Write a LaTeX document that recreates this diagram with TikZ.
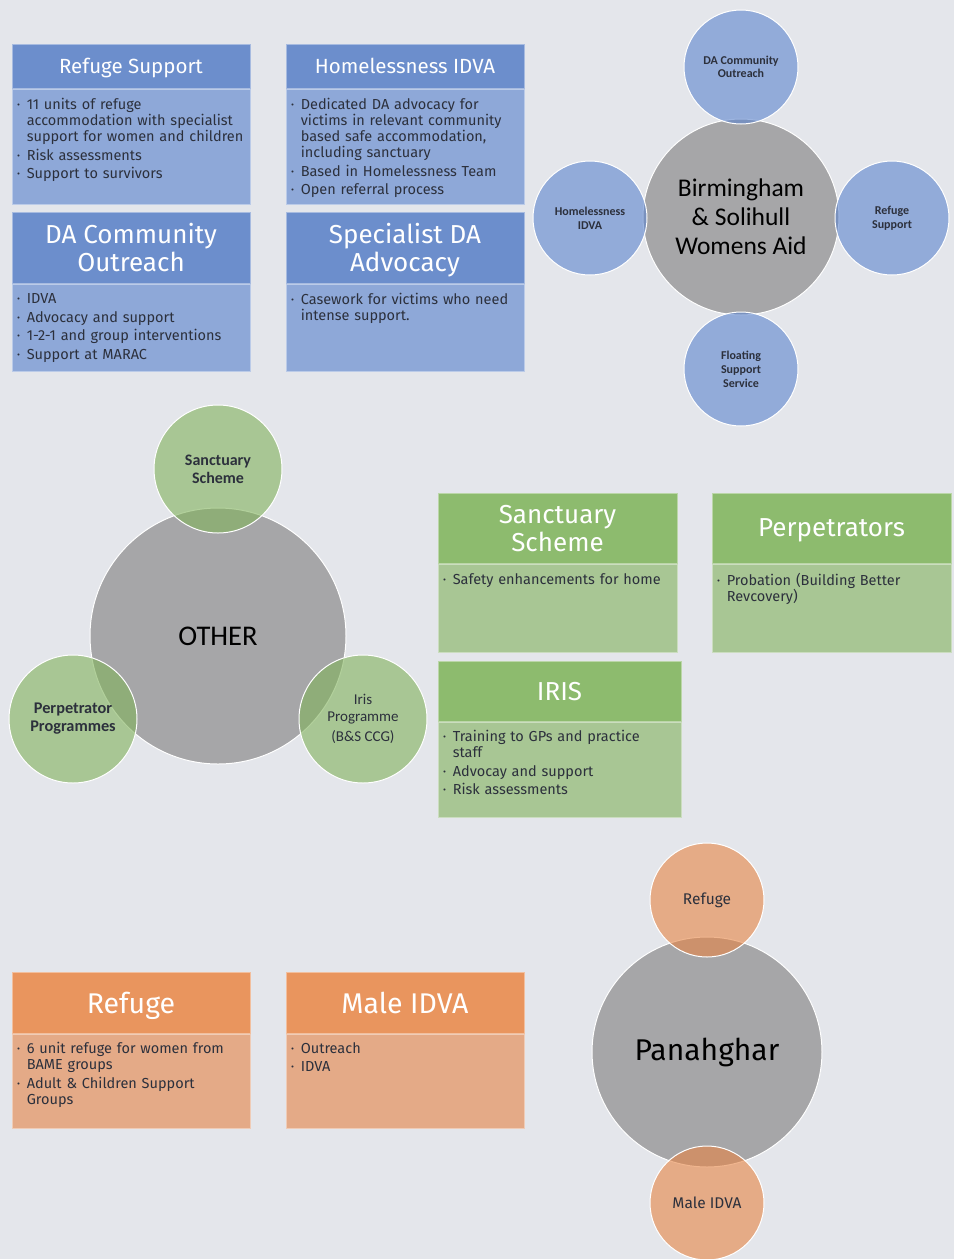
\documentclass[tikz,border=0pt]{standalone}
\usepackage{fontspec}
\setmainfont{Fira Sans}
\newfontfamily\calfont{Carlito}
\usetikzlibrary{positioning}
\definecolor{pagebg}{RGB}{228,230,235}
\definecolor{bluehead}{RGB}{108,142,204}
\definecolor{bluebody}{RGB}{142,168,216}
\definecolor{bluedot}{RGB}{92,132,205}
\definecolor{greenhead}{RGB}{141,187,110}
\definecolor{greenbody}{RGB}{168,198,148}
\definecolor{greendot}{RGB}{128,178,90}
\definecolor{orangehead}{RGB}{233,149,94}
\definecolor{orangebody}{RGB}{228,170,135}
\definecolor{orangedot}{RGB}{230,132,68}
\definecolor{hubgray}{RGB}{166,166,168}
\definecolor{inktext}{RGB}{44,48,60}
\newcommand{\headsmall}{\fontsize{20.5}{24}\selectfont}
\newcommand{\headbig}{\fontsize{26}{28}\selectfont}
\newcommand{\bitem}[1]{\hangindent=10pt\hangafter=1\noindent\makebox[10pt][l]{\textperiodcentered}#1\par}

\begin{document}
\begin{tikzpicture}[
        x=1pt, y=-1pt,
        boxhead/.style={rectangle, fill=#1, draw=white!40!#1, line width=0.8pt, minimum width=238pt, inner sep=0pt, text depth=0pt, align=center, text=white},
        boxbody/.style={rectangle, fill=#1, draw=white!40!#1, line width=0.8pt, minimum width=238pt, inner sep=0pt},
        items/.style={anchor=north west, align=left, inner sep=0pt, text width=230pt, text=inktext, font=\fontsize{14.5}{16}\selectfont, execute at begin node={\setlength{\parskip}{2.5pt}}},
        hub/.style={circle, fill=hubgray, draw=white, line width=1pt, inner sep=0pt, align=center, text=black},
        spoke/.style={circle, fill=#1, fill opacity=0.6, text opacity=1, draw=white, line width=1pt, inner sep=0pt, align=center, text=inktext},
    ]
    \useasboundingbox (0,0) rectangle (954,1259);
    \fill[pagebg] (0,0) rectangle (954,1259);

    % blue boxes
    \node[boxhead=bluehead, minimum height=44pt, font=\headsmall] (rshead) at (131,66) {Refuge Support};
    \node[boxbody=bluebody, minimum height=115pt, below=1pt of rshead] (rsbody) {};
    \node[items] (rstext) at ([xshift=5pt,yshift=-9pt]rsbody.north west) {\bitem{11 units of refuge\newline accommodation with specialist\newline support for women and children}\bitem{Risk assessments}\bitem{Support to survivors}};

    \node[boxhead=bluehead, minimum height=71pt, font=\headbig] (dahead) at (131,247.5) {DA Community\\Outreach};
    \node[boxbody=bluebody, minimum height=87pt, below=1pt of dahead] (dabody) {};
    \node[items] (datext) at ([xshift=5pt,yshift=-9pt]dabody.north west) {\bitem{IDVA}\bitem{Advocacy and support}\bitem{1-2-1 and group interventions}\bitem{Support at MARAC}};

    \node[boxhead=bluehead, minimum height=44pt, font=\headsmall] (hihead) at (405,66) {Homelessness IDVA};
    \node[boxbody=bluebody, minimum height=115pt, below=1pt of hihead] (hibody) {};
    \node[items] (hitext) at ([xshift=5pt,yshift=-9pt]hibody.north west) {\bitem{Dedicated DA advocacy for\newline victims in relevant community\newline based safe accommodation,\newline including sanctuary}\bitem{Based in Homelessness Team}\bitem{Open referral process}};

    \node[boxhead=bluehead, minimum height=71pt, font=\headbig] (sphead) at (405,247.5) {Specialist DA\\Advocacy};
    \node[boxbody=bluebody, minimum height=87pt, below=1pt of sphead] (spbody) {};
    \node[items] (sptext) at ([xshift=5pt,yshift=-9pt]spbody.north west) {\bitem{Casework for victims who need\newline intense support.}};

    % blue circles
    \node[hub, minimum size=196pt, font=\calfont\fontsize{25.5}{29}\selectfont] (bswa) at (741,217) {Birmingham\\\& Solihull\\Womens Aid};
    \node[spoke=bluedot, minimum size=114pt, font=\calfont\bfseries\fontsize{12}{13}\selectfont] (dac) at (741,67) {DA Community\\Outreach};
    \node[spoke=bluedot, minimum size=114pt, font=\calfont\bfseries\fontsize{12}{14}\selectfont] (hidva) at (590,218) {Homelessness\\IDVA};
    \node[spoke=bluedot, minimum size=114pt, font=\calfont\bfseries\fontsize{12}{14}\selectfont] (rsup) at (892,218) {Refuge\\Support};
    \node[spoke=bluedot, minimum size=114pt, font=\calfont\bfseries\fontsize{12}{14}\selectfont] (fss) at (741,369) {Floating\\Support\\Service};

    % green circles
    \node[hub, minimum size=256pt, font=\calfont\fontsize{28.5}{30}\selectfont] (other) at (218,636) {OTHER};
    \node[spoke=greendot, minimum size=128pt, font=\calfont\bfseries\fontsize{16}{18}\selectfont] (sanc) at (218,469) {Sanctuary\\Scheme};
    \node[spoke=greendot, minimum size=128pt, font=\calfont\bfseries\fontsize{16.3}{18}\selectfont] (perp) at (73,719) {Perpetrator\\Programmes};
    \node[spoke=greendot, minimum size=128pt, font=\calfont\fontsize{15}{17}\selectfont] (iris) at (363,719) {Iris\\Programme\\[3pt](B\&S CCG)};

    % green boxes
    \node[boxhead=greenhead, minimum width=239pt, minimum height=70pt, font=\headbig] (sshead) at (557.5,528) {Sanctuary\\Scheme};
    \node[boxbody=greenbody, minimum width=239pt, minimum height=88pt, below=1pt of sshead] (ssbody) {};
    \node[items] (sstext) at ([xshift=5pt,yshift=-9pt]ssbody.north west) {\bitem{Safety enhancements for home}};

    \node[boxhead=greenhead, minimum width=239pt, minimum height=70pt, font=\headbig] (pehead) at (831.5,528) {Perpetrators};
    \node[boxbody=greenbody, minimum width=239pt, minimum height=88pt, below=1pt of pehead] (pebody) {};
    \node[items] (petext) at ([xshift=5pt,yshift=-9pt]pebody.north west) {\bitem{Probation (Building Better\newline Revcovery)}};

    \node[boxhead=greenhead, minimum width=243pt, minimum height=60pt, font=\headbig] (irhead) at (559.5,691) {IRIS};
    \node[boxbody=greenbody, minimum width=243pt, minimum height=95pt, below=1pt of irhead] (irbody) {};
    \node[items] (irtext) at ([xshift=5pt,yshift=-8pt]irbody.north west) {\bitem{Training to GPs and practice\newline staff}\bitem{Advocay and support}\bitem{Risk assessments}};

    % orange boxes
    \node[boxhead=orangehead, minimum height=61pt, font=\fontsize{28.5}{30}\selectfont] (rfhead) at (131,1002.5) {Refuge};
    \node[boxbody=orangebody, minimum height=94pt, below=1pt of rfhead] (rfbody) {};
    \node[items] (rftext) at ([xshift=5pt,yshift=-8pt]rfbody.north west) {\bitem{6 unit refuge for women from\newline BAME groups}\bitem{Adult \& Children Support\newline Groups}};

    \node[boxhead=orangehead, minimum height=61pt, font=\fontsize{28.5}{30}\selectfont] (mihead) at (405,1002.5) {Male IDVA};
    \node[boxbody=orangebody, minimum height=94pt, below=1pt of mihead] (mibody) {};
    \node[items] (mitext) at ([xshift=5pt,yshift=-8pt]mibody.north west) {\bitem{Outreach}\bitem{IDVA}};

    % orange circles
    \node[hub, minimum size=230pt, font=\fontsize{30}{32}\selectfont] (pana) at (707,1052) {Panahghar};
    \node[spoke=orangedot, minimum size=114pt, font=\fontsize{15.5}{18}\selectfont] (oref) at (707,900) {Refuge};
    \node[spoke=orangedot, minimum size=114pt, font=\fontsize{15.5}{18}\selectfont] (omale) at (707,1203) {Male IDVA};
\end{tikzpicture}
\end{document}
